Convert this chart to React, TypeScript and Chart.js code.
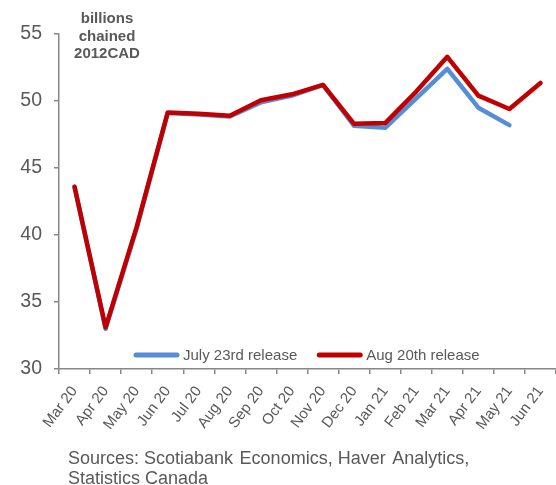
import React, { useEffect, useRef } from "react";
import { Chart, registerables } from "chart.js";

Chart.register(...registerables);

const categories = [
  "Mar 20", "Apr 20", "May 20", "Jun 20", "Jul 20", "Aug 20", "Sep 20", "Oct 20",
  "Nov 20", "Dec 20", "Jan 21", "Feb 21", "Mar 21", "Apr 21", "May 21", "Jun 21",
];
const july23Release = [43.6, 33.0, 40.5, 49.1, 49.0, 48.85, 49.9, 50.4, 51.2, 48.15, 48.0, 50.2, 52.4, 49.5, 48.2, null];
const aug20Release = [43.6, 33.1, 40.6, 49.15, 49.05, 48.9, 50.05, 50.5, 51.2, 48.3, 48.35, 50.7, 53.3, 50.4, 49.4, 51.35];
const yTicks = [30, 35, 40, 45, 50, 55];
const unitLabel = ["billions", "chained", "2012CAD"];
const sourceLines = ["Sources: Scotiabank \u200AEconomics, Haver \u200AAnalytics,", "Statistics Canada"];

const FONT = "Arial, 'Liberation Sans', sans-serif";
const GRAY = "#595959";
const AXIS = "#878787";

const overlayPlugin = {
  id: "overlay",
  afterDraw(chart: any) {
    const ctx = chart.ctx;
    ctx.save();
    // unit label
    ctx.fillStyle = GRAY;
    ctx.font = `bold 15px ${FONT}`;
    ctx.textAlign = "center";
    ctx.textBaseline = "middle";
    unitLabel.forEach((t, i) => ctx.fillText(t, 107, 19 + i * 17.5));
    // legend
    ctx.font = `15px ${FONT}`;
    ctx.textAlign = "left";
    let x = 134;
    const y = 355;
    chart.data.datasets.forEach((ds: any) => {
      ctx.strokeStyle = ds.borderColor;
      ctx.lineWidth = 5;
      ctx.lineCap = "round";
      ctx.beginPath();
      ctx.moveTo(x + 2, y);
      ctx.lineTo(x + 43, y);
      ctx.stroke();
      ctx.fillStyle = GRAY;
      ctx.fillText(ds.label, x + 49, y + 1);
      x += 49 + ctx.measureText(ds.label).width + 20;
    });
    ctx.restore();
  },
};

export default function App() {
  const ref = useRef<HTMLCanvasElement>(null);
  useEffect(() => {
    if (!ref.current) return;
    const chart = new Chart(ref.current, {
      type: "line",
      data: {
        labels: categories,
        datasets: [
          {
            label: "July 23rd release",
            data: july23Release,
            borderColor: "#558ED5",
            backgroundColor: "#558ED5",
            borderWidth: 4.5,
            pointRadius: 0,
            tension: 0,
            borderJoinStyle: "round",
            borderCapStyle: "round",
            order: 1,
          },
          {
            label: "Aug 20th release",
            data: aug20Release,
            borderColor: "#C00000",
            backgroundColor: "#C00000",
            borderWidth: 4.5,
            pointRadius: 0,
            tension: 0,
            borderJoinStyle: "round",
            borderCapStyle: "round",
            order: 0,
          },
        ],
      },
      options: {
        responsive: false,
        animation: false,
        layout: { padding: { top: 34, right: 0, bottom: 0, left: 0 } },
        plugins: { legend: { display: false }, tooltip: { enabled: false } },
        scales: {
          x: {
            type: "category",
            offset: true,
            grid: { display: true, offset: true, drawOnChartArea: false, drawTicks: true, tickLength: 5, color: AXIS, lineWidth: 1.5 },
            border: { display: true, color: AXIS, width: 1.5 },
            ticks: { color: GRAY, font: { family: FONT, size: 15 }, minRotation: 53, maxRotation: 53, autoSkip: false, padding: 9 },
            afterFit(scale: any) {
              scale.height = 116;
              scale.paddingLeft = 0;
              scale.paddingRight = 0;
            },
          },
          y: {
            min: 30,
            max: 55,
            afterBuildTicks(scale: any) { scale.ticks = yTicks.map((v) => ({ value: v })); },
            grid: { display: true, drawOnChartArea: false, drawTicks: true, tickLength: 5, color: AXIS, lineWidth: 1.5 },
            border: { display: true, color: AXIS, width: 1.5 },
            ticks: { color: GRAY, font: { family: FONT, size: 19.5 }, padding: 12 },
            afterFit(scale: any) {
              scale.width = 59;
              scale.paddingTop = 0;
              scale.paddingBottom = 0;
            },
          },
        },
      },
      plugins: [overlayPlugin],
    } as any);
    return () => chart.destroy();
  }, []);
  return (
    <div style={{ position: "absolute", left: 0, top: 0, width: 556, height: 485 }}>
      <canvas ref={ref} width={556} height={485} style={{ width: 556, height: 485, display: "block" }} />
      <div
        style={{
          position: "absolute",
          left: 68,
          top: 448,
          fontFamily: FONT,
          fontSize: 18,
          lineHeight: "20px",
          color: GRAY,
          whiteSpace: "pre",
        }}
      >
        {sourceLines.map((l, i) => (
          <div key={i}>{l}</div>
        ))}
      </div>
    </div>
  );
}
